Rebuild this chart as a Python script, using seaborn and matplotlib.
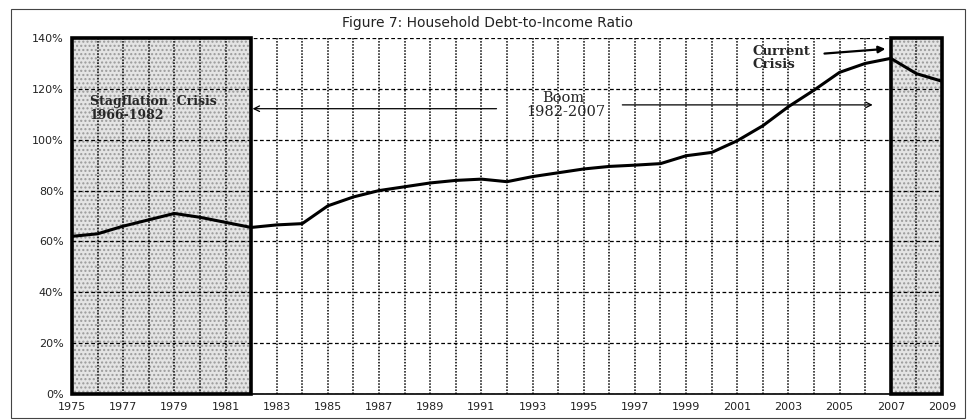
import numpy as np
import pandas as pd
import matplotlib
matplotlib.use("Agg")
import matplotlib.pyplot as plt
import matplotlib.ticker as mticker
from matplotlib.patches import Rectangle
import seaborn as sns

# Данные: отношение долга домохозяйств к доходу, %
years = list(range(1975, 2010))
ratio = [62, 63, 66, 68.5, 71, 69.5, 67.5, 65.5, 66.5, 67, 74, 77.5, 80, 81.5,
         83, 84, 84.5, 83.5, 85.5, 87, 88.5, 89.5, 90, 90.6, 93.7, 95, 99.6,
         105.5, 113, 119.5, 126.5, 130, 132, 126, 123]
y_ticks = [0, 20, 40, 60, 80, 100, 120, 140]
crisis_periods = [(1975, 1982), (2007, 2009)]

df = pd.DataFrame({"year": years, "ratio": ratio})

sns.set_style("white")
plt.rcParams["font.family"] = ["DejaVu Sans"]

fig = plt.figure(figsize=(9.7, 4.2), dpi=100)
ax = fig.add_axes([0.0742, 0.0619, 0.8969, 0.8476])

# Рамка вокруг всей картинки
fig.patches.append(Rectangle((0.011, 0.004), 0.984, 0.974, transform=fig.transFigure,
                             fill=False, edgecolor="#444444", linewidth=0.8))

# Заштрихованные периоды кризисов
for x0, x1 in crisis_periods:
    ax.axvspan(x0, x1, facecolor="#e4e4e4", edgecolor="#9a9a9a", hatch="....",
               linewidth=0, zorder=0.2)
    ax.add_patch(Rectangle((x0, 0), x1 - x0, 140, fill=False, edgecolor="black",
                           linewidth=2.6, zorder=3, clip_on=False))

sns.lineplot(data=df, x="year", y="ratio", color="black", linewidth=2.2, ax=ax, zorder=4)

ax.set_xlim(1975, 2009)
ax.set_ylim(0, 140)
ax.xaxis.set_major_locator(mticker.FixedLocator(range(1975, 2010, 2)))
ax.xaxis.set_minor_locator(mticker.FixedLocator(range(1976, 2010, 2)))
ax.set_yticks(y_ticks)
ax.set_yticklabels([f"{v}%" for v in y_ticks])
ax.set_axisbelow(True)
ax.grid(axis="x", which="both", color="black", linestyle=(0, (1, 1)), linewidth=1.1)
ax.grid(axis="y", which="major", color="black", linestyle=(0, (3, 2)), linewidth=0.9)
ax.tick_params(axis="x", which="both", length=0, labelsize=8, pad=6, colors="#222222")
ax.tick_params(axis="y", length=4, width=1, labelsize=8, pad=2, colors="#222222")
ax.set_xlabel("")
ax.set_ylabel("")
for side in ["top", "right"]:
    ax.spines[side].set_visible(False)
for side in ["left", "bottom"]:
    ax.spines[side].set_color("black")
    ax.spines[side].set_linewidth(1.2)

fig.text(0.503, 0.945, "Figure 7: Household Debt-to-Income Ratio", ha="center", va="center",
         fontsize=10, color="#222222")

serif = ["DejaVu Serif"]
ax.text(1975.7, 115.2, "Stagflation  Crisis", family=serif, fontweight="bold", fontsize=9,
        ha="left", va="center", zorder=5)
ax.text(1975.7, 109.6, "1966-1982", family=serif, fontweight="bold", fontsize=9,
        ha="left", va="center", zorder=5)
ax.annotate("", xy=(1981.95, 112.2), xytext=(1991.7, 112.2),
            arrowprops=dict(arrowstyle="->", color="black", lw=0.9))

ax.text(1994.2, 116.5, "Boom", family=serif, fontsize=10.5, ha="center", va="center", zorder=5)
ax.text(1994.3, 111.0, "1982-2007", family=serif, fontsize=10.5, ha="center", va="center", zorder=5)
ax.annotate("", xy=(2006.4, 113.7), xytext=(1996.4, 113.7),
            arrowprops=dict(arrowstyle="->", color="black", lw=0.9))

ax.text(2001.6, 134.5, "Current", family=serif, fontweight="bold", fontsize=9.5,
        ha="left", va="center", zorder=5)
ax.text(2001.6, 129.4, "Crisis", family=serif, fontweight="bold", fontsize=9.5,
        ha="left", va="center", zorder=5)
ax.annotate("", xy=(2006.9, 135.8), xytext=(2004.3, 133.8),
            arrowprops=dict(arrowstyle="-|>", color="black", lw=1.6, mutation_scale=10))

fig.savefig("out.png", dpi=100)
